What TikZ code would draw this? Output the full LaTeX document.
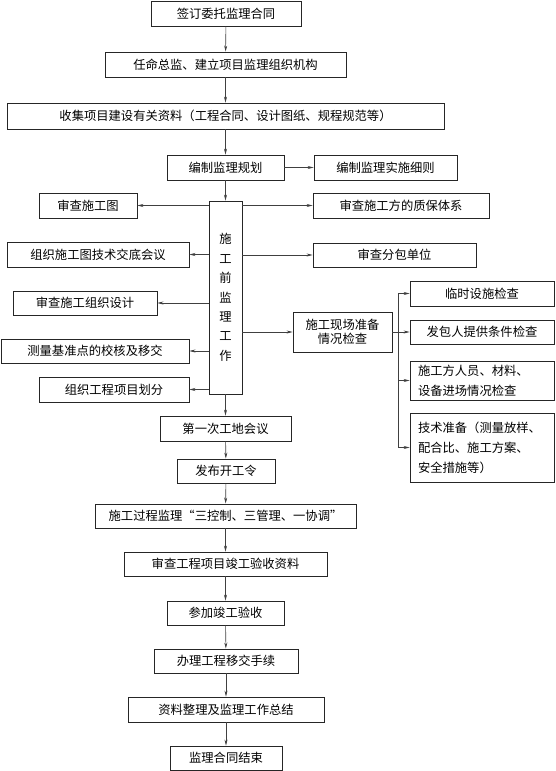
\documentclass[tikz,border=0pt]{standalone}
\usepackage{fontspec}
\setmainfont{Noto Sans CJK SC}
\usetikzlibrary{arrows.meta}
\begin{document}
\begin{tikzpicture}[x=1pt,y=-1pt,
  box/.style={draw=black!85,line width=0.9pt,inner sep=0pt,font=\fontsize{12.3}{14}\selectfont,align=center},
  arr/.style={draw=black!75,line width=0.6pt,-{Stealth[length=6pt,width=3pt]}},
  ln/.style={draw=black!75,line width=0.6pt}]
\useasboundingbox (0,0) rectangle (555,771);
% top chain
\node[box,minimum width=150,minimum height=25] (b1) at (226,13.5) {签订委托监理合同};
\node[box,minimum width=241,minimum height=25] (b2) at (225.5,64.5) {任命总监、建立项目监理组织机构};
\node[box,minimum width=437,minimum height=26] (b3) at (225.5,116) {收集项目建设有关资料（工程合同、设计图纸、规程规范等）};
\node[box,minimum width=117,minimum height=25] (b4) at (225.5,167.5) {编制监理规划};
\node[box,minimum width=143,minimum height=25] (b5) at (385.5,167.5) {编制监理实施细则};
% tall box
\node[box,minimum width=33,minimum height=193,font=\fontsize{12.3}{19.4}\selectfont] (tall) at (225.5,297.5) {施\\工\\前\\监\\理\\工\\作};
% left boxes
\node[box,minimum width=98,minimum height=25] (l1) at (88,205.5) {审查施工图};
\node[box,minimum width=182,minimum height=25] (l2) at (98,254.5) {组织施工图技术交底会议};
\node[box,minimum width=144,minimum height=24] (l3) at (85,303) {审查施工组织设计};
\node[box,minimum width=188,minimum height=24] (l4) at (95,351) {测量基准点的校核及移交};
\node[box,minimum width=150,minimum height=25] (l5) at (114,389.5) {组织工程项目划分};
% right boxes
\node[box,minimum width=176,minimum height=25] (r1) at (401,205.5) {审查施工方的质保体系};
\node[box,minimum width=163,minimum height=24] (r2) at (394.5,255) {审查分包单位};
\node[box,minimum width=99,minimum height=40,font=\fontsize{12.3}{13.7}\selectfont] (r3) at (342.5,332) {施工现场准备\\情况检查};
% sub boxes
\node[box,minimum width=144,minimum height=25] (s1) at (482,293.5) {临时设施检查};
\node[box,minimum width=144,minimum height=24] (s2) at (482,332) {发包人提供条件检查};
\node[box,minimum width=144,minimum height=39,align=left,text width=128,font=\fontsize{12.3}{20}\selectfont] (s3) at (482,380.5) {施工方人员、材料、\\设备进场情况检查};
\node[box,minimum width=144,minimum height=69,align=left,text width=128,font=\fontsize{12.3}{20}\selectfont] (s4) at (482,447.5) {技术准备（测量放样、\\配合比、施工方案、\\安全措施等）};
\coordinate (br) at (398,332);
% bottom chain
\node[box,minimum width=131,minimum height=25] (c1) at (225.5,428.5) {第一次工地会议};
\node[box,minimum width=98,minimum height=24] (c2) at (226,471) {发布开工令};
\node[box,minimum width=261,minimum height=24] (c3) at (225.5,516) {施工过程监理“三控制、三管理、一协调”};
\node[box,minimum width=203,minimum height=24] (c4) at (225.5,564) {审查工程项目竣工验收资料};
\node[box,minimum width=117,minimum height=24] (c5) at (225.5,613) {参加竣工验收};
\node[box,minimum width=144,minimum height=24] (c6) at (226,661) {办理工程移交手续};
\node[box,minimum width=196,minimum height=25] (c7) at (226,709.5) {资料整理及监理工作总结};
\node[box,minimum width=112,minimum height=24] (c8) at (226,758) {监理合同结束};
% connectors
\draw[arr] (b1) -- (b2);
\draw[arr] (b2) -- (b3);
\draw[arr] (b3.south -| b4.north) -- (b4);
\draw[arr] (b4) -- (tall);
\draw[arr] (b4) -- (b5);
\foreach \n in {l1,l2,l3,l4,l5}{\draw[arr] (tall.west |- \n.east) -- (\n.east);}
\foreach \n in {r1,r2,r3}{\draw[arr] (tall.east |- \n.west) -- (\n.west);}
\draw[ln] (r3.east) -- (br);
\draw[ln] (br |- s1.west) -- (br |- s4.west);
\foreach \n in {s1,s2,s3,s4}{\draw[arr] (br |- \n.west) -- (\n.west);}
\draw[arr] (tall) -- (c1);
\draw[arr] (c1) -- (c2);
\draw[arr] (c2) -- (c3);
\draw[arr] (c3) -- (c4);
\draw[arr] (c4) -- (c5);
\draw[arr] (c5) -- (c6);
\draw[arr] (c6) -- (c7);
\draw[arr] (c7) -- (c8);
\end{tikzpicture}
\end{document}
